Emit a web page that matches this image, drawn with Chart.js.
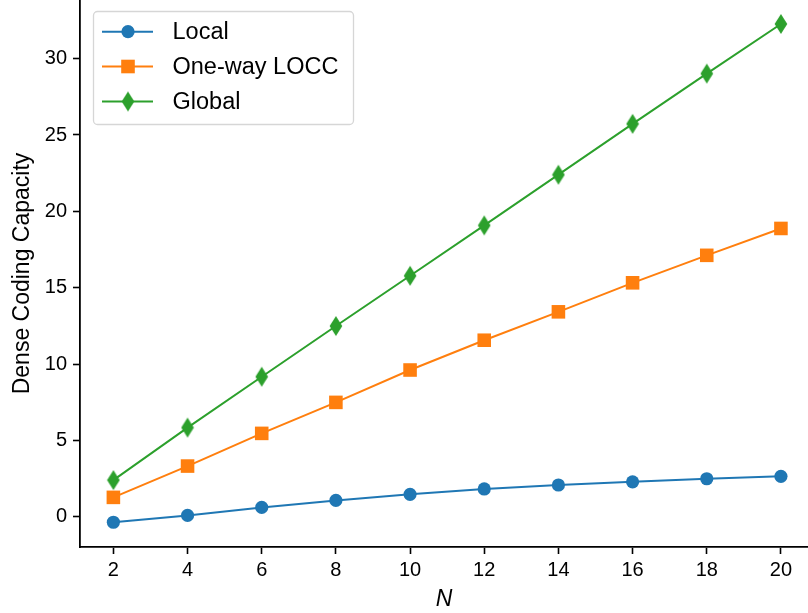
<!DOCTYPE html>
<html>
<head>
<meta charset="utf-8">
<script src="https://cdn.jsdelivr.net/npm/chart.js@4"></script>
<style>
	html, body { margin: 0; padding: 0; background: #fff; overflow: hidden; }
</style>
</head>
<body>
<canvas id="grafico" width="808" height="613"></canvas>
<script>
// datos
const nValues = [2, 4, 6, 8, 10, 12, 14, 16, 18, 20];
const local = [-0.36, 0.09, 0.61, 1.07, 1.47, 1.82, 2.08, 2.29, 2.49, 2.65];
const oneWay = [1.27, 3.32, 5.46, 7.49, 9.61, 11.56, 13.42, 15.32, 17.12, 18.88];
const global = [2.40, 5.84, 9.17, 12.49, 15.78, 19.08, 22.40, 25.73, 29.02, 32.27];
const seriesNames = ["Local", "One-way LOCC", "Global"];
const xTicks = [2, 4, 6, 8, 10, 12, 14, 16, 18, 20];
const yTicks = [0, 5, 10, 15, 20, 25, 30];

const azul = "#1f77b4";
const naranja = "#ff7f0e";
const verde = "#2ca02c";
const fuente = "'Liberation Sans', Arial, Helvetica, sans-serif";

// rombo estrecho tipo 'd' de matplotlib
function crearRombo(color){
	const c = document.createElement("canvas");
	c.width = 14;
	c.height = 22;
	const ctx = c.getContext("2d");
	ctx.fillStyle = color;
	ctx.beginPath();
	ctx.moveTo(7, 1);
	ctx.lineTo(13.3, 11);
	ctx.lineTo(7, 21);
	ctx.lineTo(0.7, 11);
	ctx.closePath();
	ctx.fill();
	return c;
}
const rombo = crearRombo(verde);

function puntos(valores){
	return valores.map((v, i) => ({x: nValues[i], y: v}));
}

// leyenda dentro del area del grafico
const leyendaPlugin = {
	id: "leyenda",
	afterDraw(chart){
		const ctx = chart.ctx;
		const colores = [azul, naranja, verde];
		ctx.save();
		ctx.beginPath();
		ctx.roundRect(93.5, 11.5, 260, 113, 4);
		ctx.fillStyle = "rgba(255,255,255,0.8)";
		ctx.fill();
		ctx.strokeStyle = "#d6d6d6";
		ctx.lineWidth = 1.3;
		ctx.stroke();
		const filas = [31.7, 66.5, 101.5];
		filas.forEach((y, i) => {
			ctx.strokeStyle = colores[i];
			ctx.lineWidth = 2;
			ctx.beginPath();
			ctx.moveTo(102, y);
			ctx.lineTo(153, y);
			ctx.stroke();
			ctx.fillStyle = colores[i];
			if(i == 0){
				ctx.beginPath();
				ctx.arc(128, y, 6.6, 0, Math.PI * 2);
				ctx.fill();
			} else if(i == 1){
				ctx.fillRect(128 - 6.8, y - 6.8, 13.6, 13.6);
			} else {
				ctx.drawImage(rombo, 128 - 7, y - 11);
			}
			ctx.fillStyle = "#000";
			ctx.font = "23.5px " + fuente;
			ctx.textBaseline = "middle";
			ctx.fillText(seriesNames[i], 172.5, y + 1);
		});
		ctx.restore();
	}
};

const data = {
	datasets: [{
		label: seriesNames[0],
		data: puntos(local),
		borderColor: azul,
		backgroundColor: azul,
		borderWidth: 2,
		pointStyle: "circle",
		pointRadius: 6.6,
		pointBorderWidth: 0
	},{
		label: seriesNames[1],
		data: puntos(oneWay),
		borderColor: naranja,
		backgroundColor: naranja,
		borderWidth: 2,
		pointStyle: "rect",
		pointRadius: 9.6,
		pointBorderWidth: 0
	},{
		label: seriesNames[2],
		data: puntos(global),
		borderColor: verde,
		backgroundColor: verde,
		borderWidth: 2,
		pointStyle: rombo,
		pointRadius: 10,
		pointBorderWidth: 0
	}]
};

const config = {
	type: "line",
	data: data,
	options: {
		responsive: false,
		animation: false,
		layout: { padding: 0, autoPadding: false },
		plugins: {
			legend: { display: false },
			tooltip: { enabled: false }
		},
		scales: {
			x: {
				type: "linear",
				min: 1.1,
				max: 20.73,
				afterBuildTicks: (scale) => { scale.ticks = xTicks.map(v => ({value: v})); },
				afterFit: (scale) => {
					scale.height = 66;
					scale.paddingLeft = 0;
					scale.paddingRight = 0;
				},
				grid: {
					drawOnChartArea: false,
					drawTicks: true,
					tickLength: 7,
					tickWidth: 1.6,
					tickColor: "#000"
				},
				border: { display: true, color: "#000", width: 1.8 },
				ticks: {
					color: "#000",
					font: { family: fuente, size: 20 },
					padding: 4,
					maxRotation: 0
				},
				title: {
					display: true,
					text: "N",
					color: "#000",
					font: { family: fuente, size: 23, style: "italic" },
					padding: { top: 2, bottom: 0 }
				}
			},
			y: {
				min: -1.98,
				max: 33.84,
				afterBuildTicks: (scale) => { scale.ticks = yTicks.map(v => ({value: v})); },
				afterFit: (scale) => {
					scale.width = 80;
					scale.paddingTop = 0;
					scale.paddingBottom = 0;
				},
				grid: {
					drawOnChartArea: false,
					drawTicks: true,
					tickLength: 7,
					tickWidth: 1.6,
					tickColor: "#000"
				},
				border: { display: true, color: "#000", width: 1.8 },
				ticks: {
					color: "#000",
					font: { family: fuente, size: 20 },
					padding: 6
				},
				title: {
					display: true,
					text: "Dense Coding Capacity",
					color: "#000",
					font: { family: fuente, size: 23 },
					padding: { top: 9, bottom: 4 }
				}
			}
		}
	},
	plugins: [leyendaPlugin]
};

const grafico = new Chart(document.getElementById("grafico"), config);
</script>
</body>
</html>
